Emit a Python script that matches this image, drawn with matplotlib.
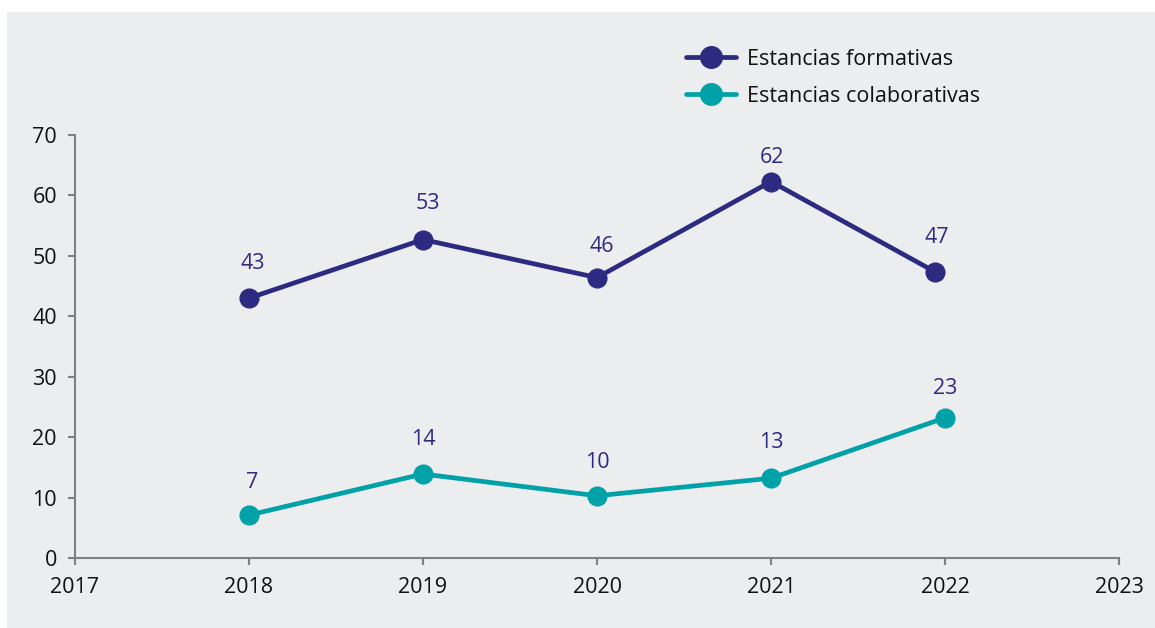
import matplotlib
matplotlib.use("Agg")
import matplotlib.pyplot as plt
from matplotlib.patches import Rectangle

years = [2018, 2019, 2020, 2021, 2022]
years_form = [2018, 2019, 2020, 2021, 2021.94]
formativas = [43.0, 52.7, 46.4, 62.3, 47.4]
colaborativas = [7.1, 13.9, 10.3, 13.2, 23.2]
labels_form = ["43", "53", "46", "62", "47"]
labels_colab = ["7", "14", "10", "13", "23"]
xticks = [2017, 2018, 2019, 2020, 2021, 2022, 2023]
yticks = [0, 10, 20, 30, 40, 50, 60, 70]
series_names = ["Estancias formativas", "Estancias colaborativas"]

# label offsets (pixels) as placed in the original
off_form = [(4, 35), (5, 36), (5, 31), (1, 24), (2, 34)]
off_colab = [(3, 33), (0, 35), (0, 33), (0, 36), (0, 29)]

NAVY = "#2d2a82"
TEAL = "#00a1a7"
BG = "#ecedef"
AXC = "#7f7f7f"
TXT = "#111111"

plt.rcParams['font.family'] = ['Open Sans', 'DejaVu Sans']

W, H = 1155, 628
PX = 72 / 100  # points per pixel
fig = plt.figure(figsize=(W / 100, H / 100), dpi=100, facecolor="white")
fig.patches.append(Rectangle((7 / W, 0.5 / H), 1 - 7 / W, (627 - 11) / H,
                             transform=fig.transFigure, facecolor=BG,
                             edgecolor="none", zorder=-10))

ax = fig.add_axes([75 / W, 1 - 558 / H, (1119 - 75) / W, (558 - 135) / H])
ax.set_facecolor("none")
ax.set_zorder(1)

l1, = ax.plot(years_form, formativas, color=NAVY, lw=3.4, marker="o", ms=13.5,
              solid_capstyle="round", label=series_names[0], clip_on=False, zorder=3)
l2, = ax.plot(years, colaborativas, color=TEAL, lw=3.4, marker="o", ms=13.5,
              solid_capstyle="round", label=series_names[1], clip_on=False, zorder=3)

for x, y, t, (dx, dy) in zip(years_form, formativas, labels_form, off_form):
    ax.annotate(t, (x, y), xytext=(dx * PX, dy * PX), textcoords="offset points",
                ha="center", va="center", fontsize=15.5, color=NAVY)
for x, y, t, (dx, dy) in zip(years, colaborativas, labels_colab, off_colab):
    ax.annotate(t, (x, y), xytext=(dx * PX, dy * PX), textcoords="offset points",
                ha="center", va="center", fontsize=15.5, color=NAVY)

ax.set_xlim(2017, 2023)
ax.set_ylim(0, 70)
ax.set_xticks(xticks)
ax.set_xticklabels([str(v) for v in xticks])
ax.set_yticks(yticks)
ax.set_yticklabels([str(v) for v in yticks])

for s in ["top", "right"]:
    ax.spines[s].set_visible(False)
for s in ["left", "bottom"]:
    ax.spines[s].set_color(AXC)
    ax.spines[s].set_linewidth(1.5)
ax.tick_params(axis="both", colors=AXC, width=1.5, length=5, labelcolor=TXT,
               labelsize=15.5)
ax.tick_params(axis="y", pad=8)
ax.tick_params(axis="x", pad=9)

leg = ax.legend(handles=[l1, l2], loc="upper left",
                bbox_to_anchor=(686 / W, 1 - 49 / H), bbox_transform=fig.transFigure,
                frameon=False, fontsize=15.5, handlelength=2.3, handletextpad=0.55,
                labelspacing=0.74, borderaxespad=0, borderpad=0, markerscale=1.15)
for t in leg.get_texts():
    t.set_color(TXT)

fig.savefig("out.png", dpi=100, facecolor="white")
